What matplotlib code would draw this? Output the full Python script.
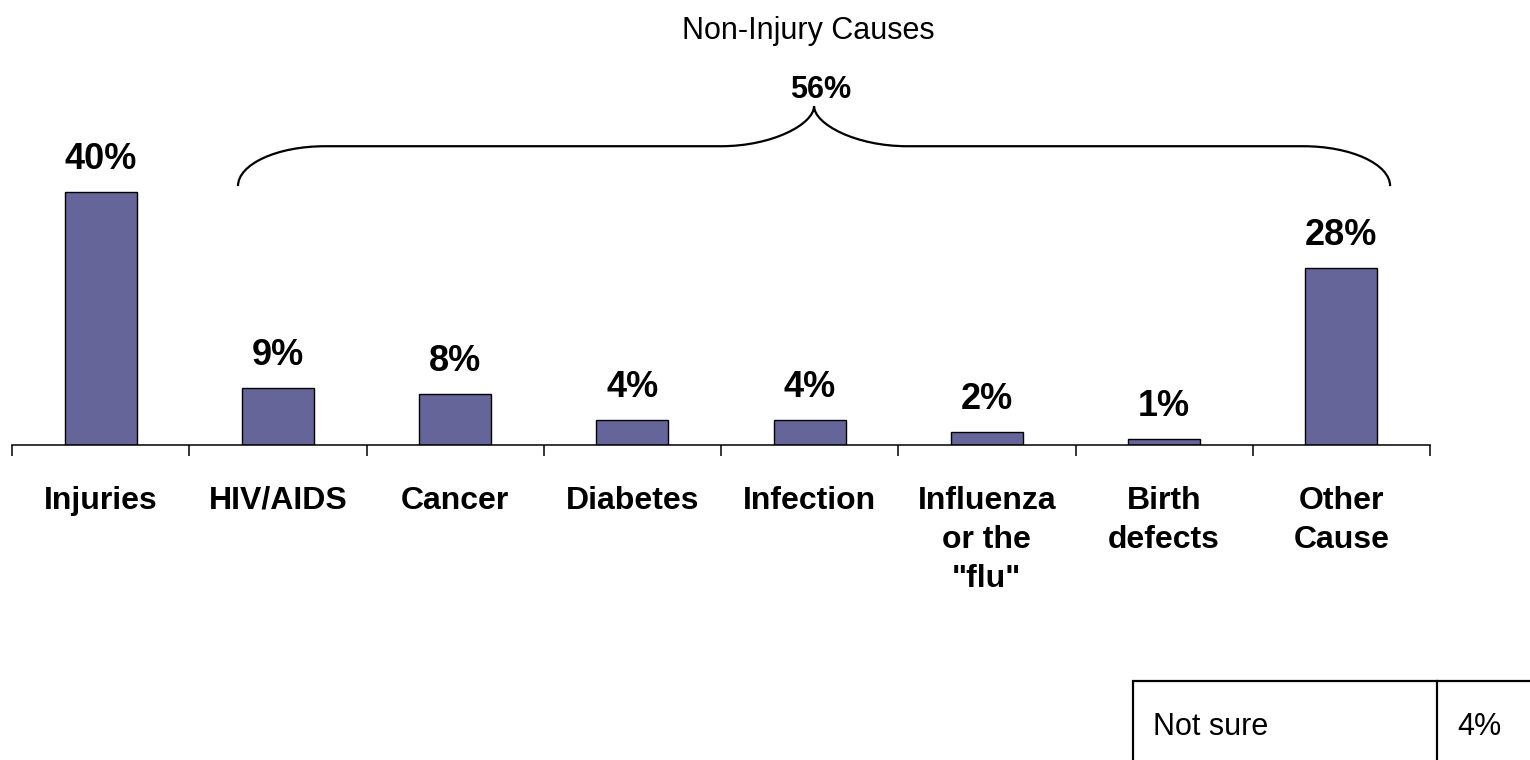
import matplotlib
matplotlib.use('Agg')
import matplotlib.pyplot as plt
from matplotlib.path import Path
from matplotlib.patches import PathPatch, Rectangle
from matplotlib.lines import Line2D
import numpy as np

plt.rcParams['font.family'] = ['Liberation Sans', 'DejaVu Sans']

categories = ['Injuries', 'HIV/AIDS', 'Cancer', 'Diabetes', 'Infection',
              'Influenza\nor the\n"flu"', 'Birth\ndefects', 'Other\nCause']
values = [40, 9, 8, 4, 4, 2, 1, 28]
value_labels = ['40%', '9%', '8%', '4%', '4%', '2%', '1%', '28%']

group_title = 'Non-Injury Causes'
group_label = '56%'

table_labels = ['Not sure']
table_values = ['4%']

W, H = 1530, 760
fig = plt.figure(figsize=(W / 100, H / 100), dpi=100)
ax = fig.add_axes([12 / W, 315 / H, 1418 / W, 70 * 6.33 / H])

x = np.arange(len(categories))
bars = ax.bar(x, values, width=0.405, color='#656599', edgecolor='black', linewidth=1.0)

for xi, v, lab in zip(x, values, value_labels):
    ax.annotate(lab, (xi, v), xytext=(0, 16.5), textcoords='offset points',
                ha='center', va='baseline', fontsize=26, fontweight='bold')

ax.set_xlim(-0.5, len(categories) - 0.5)
ax.set_ylim(0, 70)
for s in ['left', 'right', 'top']:
    ax.spines[s].set_visible(False)
ax.spines['bottom'].set_linewidth(1.1)
ax.set_yticks([])

ax.set_xticks(x)
ax.set_xticklabels(categories, fontsize=23, fontweight='bold', linespacing=1.39)
ax.tick_params(axis='x', which='major', length=0, pad=29.5)
ax.set_xticks(np.arange(len(categories) + 1) - 0.5, minor=True)
ax.tick_params(axis='x', which='minor', length=8, width=1.1, direction='out')

# brace over the non-injury causes
x0, x1 = 0.775, 7.275
xm = (x0 + x1) / 2
yb, yh, yp = 40.9, 47.2, 53.55
rx = 0.49
verts = [
    (x0, yb), (x0, yb + 0.55 * (yh - yb)), (x0 + 0.45 * rx, yh), (x0 + rx, yh),
    (xm - 0.525, yh),
    (xm - 0.525 + 0.29, yh), (xm, yh + 0.55 * (yp - yh)), (xm, yp),
    (xm, yh + 0.55 * (yp - yh)), (xm + 0.525 - 0.29, yh), (xm + 0.525, yh),
    (x1 - rx, yh),
    (x1 - 0.45 * rx, yh), (x1, yb + 0.55 * (yh - yb)), (x1, yb),
]
codes = [Path.MOVETO, Path.CURVE4, Path.CURVE4, Path.CURVE4,
         Path.LINETO,
         Path.CURVE4, Path.CURVE4, Path.CURVE4,
         Path.CURVE4, Path.CURVE4, Path.CURVE4,
         Path.LINETO,
         Path.CURVE4, Path.CURVE4, Path.CURVE4]
ax.add_patch(PathPatch(Path(verts, codes), facecolor='none', edgecolor='black',
                       linewidth=1.6, clip_on=False))
ax.text(xm + 0.04, 54.8, group_label, ha='center', va='baseline',
        fontsize=22, fontweight='bold')

fig.text(808 / W, 1 - 39 / H, group_title, ha='center', va='baseline', fontsize=22)

# small table at the bottom right
top = 1 - 681 / H
fig.add_artist(Rectangle((1133 / W, -0.05), 0.3, top + 0.05, transform=fig.transFigure,
                         facecolor='none', edgecolor='black', linewidth=1.6))
fig.add_artist(Line2D([1437 / W, 1437 / W], [-0.05, top], transform=fig.transFigure,
                      color='black', linewidth=1.6))
fig.text(1153 / W, 1 - 735 / H, table_labels[0], ha='left', va='baseline', fontsize=22)
fig.text(1457 / W, 1 - 735 / H, table_values[0], ha='left', va='baseline', fontsize=22)

fig.savefig('out.png', dpi=100)
